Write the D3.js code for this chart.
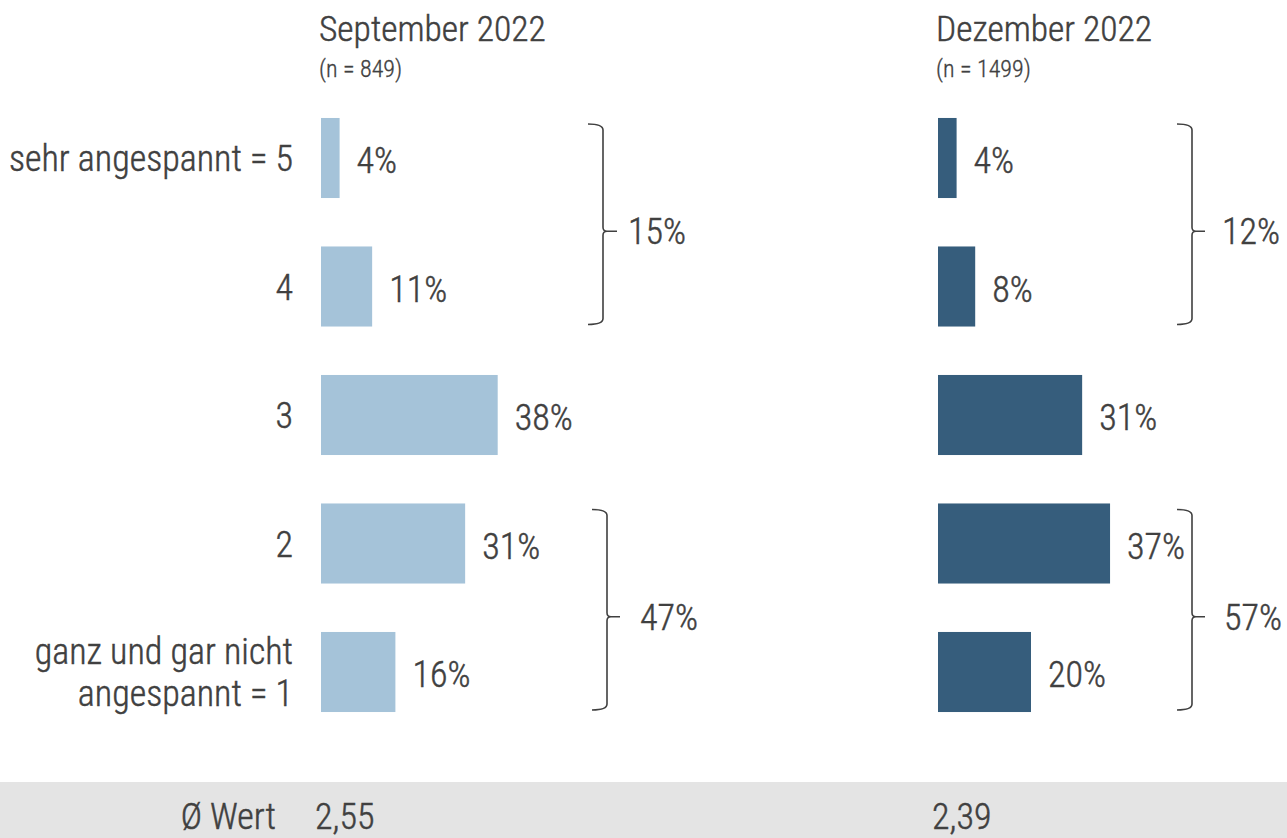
<!DOCTYPE html>
<html>
<head>
<meta charset="utf-8">
<script src="https://cdn.jsdelivr.net/npm/d3@7"></script>
<style>
html,body{margin:0;padding:0;background:#fff;}
svg{display:block;}
text{font-family:"Roboto Condensed","Liberation Sans Narrow",Roboto,sans-serif;font-weight:300;fill:#404040;stroke:#404040;stroke-width:0.45px;}
</style>
</head>
<body>
<svg id="chart" width="1287" height="838"></svg>
<script>
// ---- data ----
const categories = ["5", "4", "3", "2", "1"];
const categoryLabels = [["sehr angespannt = 5"], ["4"], ["3"], ["2"], ["ganz und gar nicht", "angespannt = 1"]];
const panelTitles = ["September 2022", "Dezember 2022"];
const panelSubtitles = ["(n = 849)", "(n = 1499)"];
const septValues = [4, 11, 38, 31, 16];
const decValues = [4, 8, 31, 37, 20];
const septGroups = [{from: "5", to: "4", value: 15}, {from: "2", to: "1", value: 47}];
const decGroups = [{from: "5", to: "4", value: 12}, {from: "2", to: "1", value: 57}];
const meanLabel = "Ø Wert";
const meanValues = ["2,55", "2,39"];

// ---- layout ----
const W = 1287, H = 838;
const svg = d3.select("#chart");
const colors = ["#a5c3d9", "#365d7c"];
const panelX = [321, 938];
const bracketX = [[{x0: 588, x1: 603, tip: 617, lx: 628}, {x0: 592, x1: 607, tip: 620, lx: 640}],
                  [{x0: 1177, x1: 1192, tip: 1205, lx: 1222}, {x0: 1177, x1: 1192, tip: 1205, lx: 1224}]];

const y = d3.scaleBand().domain(categories).range([93.75, 736.25]).paddingInner(0.377).paddingOuter(0.1885);
const x = d3.scaleLinear().domain([0, 100]).range([0, 465]);

const fs = 36;

// category labels
categories.forEach((c, i) => {
  const lines = categoryLabels[i];
  const cy = y(c) + y.bandwidth() / 2;
  const t = svg.append("text").attr("text-anchor", "end").attr("font-size", fs);
  lines.forEach((ln, j) => {
    const off = (j - (lines.length - 1) / 2) * 42;
    t.append("tspan").attr("x", 293).attr("y", cy + off + 13).text(ln);
  });
});

const panels = [
  {values: septValues, groups: septGroups},
  {values: decValues, groups: decGroups}
];

panels.forEach((p, pi) => {
  const g = svg.append("g").attr("transform", `translate(${panelX[pi]},0)`);
  // titles
  svg.append("text").attr("x", panelX[pi] - 2).attr("y", 41).attr("font-size", 35.5).text(panelTitles[pi]);
  svg.append("text").attr("x", panelX[pi] - 2).attr("y", 77).attr("font-size", 24).style("stroke-width", "0.3px").text(panelSubtitles[pi]);
  // bars
  g.selectAll("rect").data(p.values).join("rect")
    .attr("x", 0)
    .attr("y", (d, i) => y(categories[i]))
    .attr("width", d => x(d))
    .attr("height", y.bandwidth())
    .attr("fill", colors[pi]);
  g.selectAll("text.val").data(p.values).join("text")
    .attr("class", "val")
    .attr("x", d => x(d) + 17)
    .attr("y", (d, i) => y(categories[i]) + y.bandwidth() / 2 + 15)
    .attr("font-size", fs)
    .text(d => d + "%");
  // brackets
  p.groups.forEach((gr, gi) => {
    const b = bracketX[pi][gi];
    const yT = y(gr.from) + 6;
    const yB = y(gr.to) + y.bandwidth() - 2;
    const yM = (yT + yB) / 2 + 7;
    const r = 6;
    const path = `M${b.x0},${yT} Q${b.x1},${yT} ${b.x1},${yT + r} L${b.x1},${yM - 4} Q${b.x1},${yM} ${b.x1 + 4},${yM} L${b.tip},${yM} M${b.x1 + 4},${yM} Q${b.x1},${yM} ${b.x1},${yM + 4} L${b.x1},${yB - r} Q${b.x1},${yB} ${b.x0},${yB}`;
    svg.append("path").attr("d", path).attr("fill", "none").attr("stroke", "#404040").attr("stroke-width", 1.6);
    svg.append("text").attr("x", b.lx).attr("y", yM + 13).attr("font-size", fs).text(gr.value + "%");
  });
});

// mean band
svg.append("rect").attr("x", 0).attr("y", 782).attr("width", W).attr("height", H - 782).attr("fill", "#e4e4e4");
svg.append("text").attr("x", 276).attr("y", 829).attr("text-anchor", "end").attr("font-size", fs).text(meanLabel);
meanValues.forEach((v, i) => {
  svg.append("text").attr("x", panelX[i] - 6).attr("y", 829).attr("font-size", fs).text(v);
});
</script>
</body>
</html>
